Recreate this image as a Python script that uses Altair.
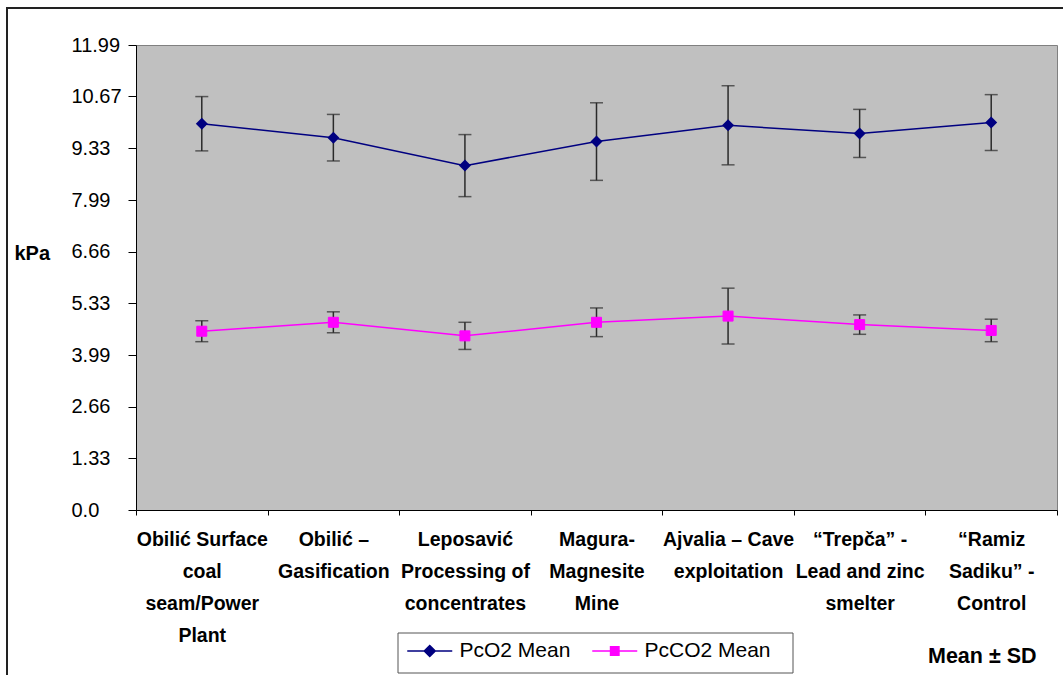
import altair as alt
import pandas as pd

# ---------------- data ----------------
categories = [
    "Obilić Surface|coal|seam/Power|Plant",
    "Obilić –|Gasification",
    "Leposavić|Processing of|concentrates",
    "Magura-|Magnesite|Mine",
    "Ajvalia – Cave|exploitation",
    "“Trepča” -|Lead and zinc|smelter",
    "“Ramiz|Sadiku” -|Control",
]
series_names = ["PcO2 Mean", "PcCO2 Mean"]
pco2_mean = [9.96, 9.60, 8.88, 9.50, 9.92, 9.71, 9.99]
pco2_sd = [0.70, 0.60, 0.80, 1.00, 1.02, 0.62, 0.72]
pcco2_mean = [4.61, 4.84, 4.49, 4.84, 5.00, 4.78, 4.63]
pcco2_sd = [0.27, 0.27, 0.35, 0.37, 0.72, 0.25, 0.29]
y_ticks = [0, 1.33, 2.66, 3.99, 5.33, 6.66, 7.99, 9.33, 10.67, 11.99]

rows = []
for name, means, sds in [(series_names[0], pco2_mean, pco2_sd),
                         (series_names[1], pcco2_mean, pcco2_sd)]:
    for c, m, s in zip(categories, means, sds):
        rows.append({"cat": c, "series": name, "mean": m,
                     "lo": m - s, "hi": m + s})
df = pd.DataFrame(rows)

NAVY = "#000080"
MAGENTA = "#FF00FF"
BAR = "#2a2a2a"
FONT = "Liberation Sans"

x_enc = alt.X(
    "cat:N",
    sort=categories,
    scale=alt.Scale(type="band", domain=categories, paddingInner=0, paddingOuter=0),
    axis=alt.Axis(
        title=None,
        labelExpr="split(datum.label, '|')",
        labelLineHeight=32,
        labelBaseline="top",
        labelPadding=15,
        labelAngle=0,
        labelFont=FONT,
        labelFontWeight="bold",
        labelFontSize=19.5,
        labelColor="black",
        labelLimit=0,
        tickBand="extent",
        tickSize=5,
        tickColor="black",
        domainColor="black",
    ),
)
y_enc = alt.Y(
    "mean:Q",
    scale=alt.Scale(domain=[0, 11.99], nice=False, zero=True),
    axis=alt.Axis(
        title="kPa",
        titleAngle=0,
        titleX=-122,
        titleY=208,
        titleAlign="left",
        titleBaseline="middle",
        titleFont=FONT,
        titleFontSize=20,
        titleFontWeight="bold",
        titleColor="black",
        values=y_ticks,
        labelExpr="datum.value == 0 ? '\u00a0\u00a0\u00a00.0' : format(datum.value, '.2f')",
        labelAlign="left",
        labelPadding=57,
        labelFont=FONT,
        labelFontSize=20,
        labelColor="black",
        tickSize=8,
        tickColor="black",
        domainColor="black",
        grid=False,
    ),
)

base = alt.Chart(df)
one = alt.Chart(pd.DataFrame({"a": [0]}))

frame = one.mark_rect(fill=None, stroke="#222222", strokeWidth=2).encode(
    x=alt.value(-129), x2=alt.value(940), y=alt.value(-37), y2=alt.value(640)
)
legend_box = one.mark_rect(fill="white", stroke="#555555", strokeWidth=1).encode(
    x=alt.value(262), x2=alt.value(657), y=alt.value(588), y2=alt.value(628)
)

line1 = base.transform_filter(alt.datum.series == series_names[0]).mark_line(
    color=NAVY, strokeWidth=1.5).encode(x=x_enc, y=y_enc)
line2 = base.transform_filter(alt.datum.series == series_names[1]).mark_line(
    color=MAGENTA, strokeWidth=1.5).encode(x=x_enc, y=y_enc)

bars = base.mark_rule(color=BAR, strokeWidth=1.5).encode(
    x=x_enc, y=alt.Y("lo:Q"), y2="hi:Q")
cap_lo = base.mark_tick(color=BAR, size=13, thickness=1.5).encode(x=x_enc, y=alt.Y("lo:Q"))
cap_hi = base.mark_tick(color=BAR, size=13, thickness=1.5).encode(x=x_enc, y=alt.Y("hi:Q"))

path1 = "M-2.25,0H2.25M0,-0.55L0.55,0L0,0.55L-0.55,0Z"
path2 = "M-2.25,0H2.25M-0.42,-0.42H0.42V0.42H-0.42Z"

pts1 = base.transform_filter(alt.datum.series == series_names[0]).mark_point(
    shape="diamond", filled=True, size=144, opacity=1).encode(
    x=x_enc, y=y_enc,
    fill=alt.Fill("series:N",
                  scale=alt.Scale(domain=[series_names[0]], range=[NAVY]),
                  legend=alt.Legend(title=None, orient="none", legendX=282.75, legendY=595,
                                    symbolType=path1, symbolSize=400,
                                    symbolStrokeColor=NAVY, symbolStrokeWidth=1.5,
                                    labelFont=FONT, labelFontSize=21, labelColor="black",
                                    labelOffset=18.75, padding=0)),
)
pts2 = base.transform_filter(alt.datum.series == series_names[1]).mark_point(
    shape="square", filled=True, size=100, opacity=1, fill=MAGENTA, strokeWidth=1).encode(
    x=x_enc, y=y_enc,
    stroke=alt.Stroke("series:N",
                      scale=alt.Scale(domain=[series_names[1]], range=[MAGENTA]),
                      legend=alt.Legend(title=None, orient="none", legendX=467.75, legendY=595,
                                        symbolType=path2, symbolSize=400,
                                        symbolFillColor=MAGENTA, symbolStrokeWidth=1.5,
                                        labelFont=FONT, labelFontSize=21, labelColor="black",
                                        labelOffset=18.75, padding=0)),
)

note = one.mark_text(text="Mean ± SD", font=FONT, fontSize=21.5, fontWeight="bold",
                     align="left", baseline="middle", color="black").encode(
    x=alt.value(792), y=alt.value(612))

chart = alt.layer(
    frame, legend_box, line1, line2, bars, cap_lo, cap_hi, pts1, pts2, note
).properties(
    width=921, height=465,
    autosize=alt.AutoSizeParams(type="none"),
    padding={"left": 136, "top": 45, "right": 6, "bottom": 165},
    background="white",
).configure_view(fill="#C0C0C0", stroke="#808080", strokeWidth=1)

chart.save("out.html", embed_options={"renderer": "svg", "actions": False})
